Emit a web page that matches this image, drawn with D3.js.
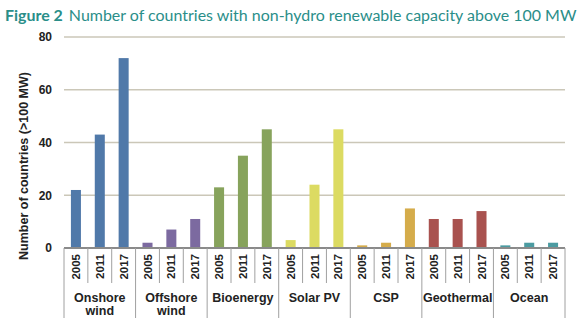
<!DOCTYPE html>
<html>
<head>
<meta charset="utf-8">
<script src="https://cdn.jsdelivr.net/npm/d3@7"></script>
<style>
  body { margin: 0; background: #fff; }
  text { font-family: "Liberation Sans", Arial, sans-serif; }
</style>
</head>
<body>
<div id="chart"></div>
<script>
// data
var groups = ["Onshore wind", "Offshore wind", "Bioenergy", "Solar PV", "CSP", "Geothermal", "Ocean"];
var years = ["2005", "2011", "2017"];
var onshore = [22, 43, 72];
var offshore = [2, 7, 11];
var bioenergy = [23, 35, 45];
var solarpv = [3, 24, 45];
var csp = [1, 2, 15];
var geothermal = [11, 11, 14];
var ocean = [1, 2, 2];
var yTicks = [0, 20, 40, 60, 80];
var colors = ["#5079a9", "#7c6aa0", "#87a35c", "#dcdb62", "#d5ac4b", "#a9524f", "#4b9ba1"];

var series = [onshore, offshore, bioenergy, solarpv, csp, geothermal, ocean];

var rows = [];
groups.forEach(function(g, gi) {
  years.forEach(function(y, yi) {
    rows.push({ key: g + "|" + y, group: g, gi: gi, year: y, value: series[gi][yi] });
  });
});

var width = 579, height = 325;
var margin = { left: 64, right: 14, top: 37, bottom: 77 };

var svg = d3.select("#chart").append("svg")
    .attr("width", width)
    .attr("height", height);

// title, shrunk to fit the width the original uses
var title = svg.append("text")
    .attr("x", 5)
    .attr("y", 21)
    .style("font-family", "Lato, 'Open Sans', sans-serif")
    .style("font-size", "17.5px")
    .attr("fill", "#2a8e89");
title.append("tspan").attr("font-weight", "bold").text("Figure 2");
title.append("tspan").attr("dx", 6).text("Number of countries with non-hydro renewable capacity above 100 MW");
var tw = title.node().getComputedTextLength();
if (tw > 566) title.style("font-size", (17.5 * 566 / tw) + "px");

var x = d3.scaleBand()
    .domain(rows.map(function(d) { return d.key; }))
    .range([margin.left, width - margin.right])
    .paddingInner(0.58)
    .paddingOuter(0.29);

var y = d3.scaleLinear()
    .domain([0, 80])
    .range([height - margin.bottom, margin.top]);

// gridlines
svg.append("g")
  .selectAll("line")
    .data(yTicks.filter(function(t) { return t > 0; }))
    .enter()
      .append("line")
      .attr("x1", margin.left)
      .attr("x2", width - margin.right)
      .attr("y1", function(d) { return y(d); })
      .attr("y2", function(d) { return y(d); })
      .attr("stroke", "#cbc7b8")
      .attr("stroke-width", 1.3);

// y axis labels
var yAxis = svg.append("g")
    .attr("transform", "translate(" + (margin.left - 6) + ",0)")
    .call(d3.axisLeft(y).tickValues(yTicks).tickSize(0).tickPadding(6));
yAxis.select(".domain").remove();
yAxis.selectAll("text")
    .style("font-size", "12px")
    .style("font-weight", "bold")
    .attr("fill", "#222");

svg.append("text")
    .attr("transform", "translate(28," + 166 + ") rotate(-90)")
    .attr("text-anchor", "middle")
    .style("font-size", "12.5px")
    .style("font-weight", "bold")
    .attr("fill", "#222")
    .text("Number of countries  (>100 MW)");

// bars
svg.append("g")
  .selectAll("rect")
    .data(rows)
    .enter()
      .append("rect")
      .attr("x", function(d) { return x(d.key); })
      .attr("y", function(d) { return y(d.value); })
      .attr("width", x.bandwidth())
      .attr("height", function(d) { return y(0) - y(d.value); })
      .attr("fill", function(d) { return colors[d.gi]; });

// category axis
var step = x.step();
var x0 = margin.left;
var base = y(0);

svg.append("line")
    .attr("x1", x0).attr("x2", width - margin.right)
    .attr("y1", base).attr("y2", base)
    .attr("stroke", "#8a8a8a")
    .attr("stroke-width", 2);

// separators: short between years, long between groups
var seps = d3.range(rows.length + 1);
svg.append("g")
  .selectAll("line")
    .data(seps)
    .enter()
      .append("line")
      .attr("x1", function(i) { return x0 + i * step; })
      .attr("x2", function(i) { return x0 + i * step; })
      .attr("y1", base)
      .attr("y2", function(i) { return i % 3 === 0 ? 318 : 283; })
      .attr("stroke", "#a0a0a0")
      .attr("stroke-width", 1);

// year labels
svg.append("g")
  .selectAll("text")
    .data(rows)
    .enter()
      .append("text")
      .attr("transform", function(d) {
        return "translate(" + (x(d.key) + x.bandwidth() / 2 + 4) + "," + (base + 6) + ") rotate(-90)";
      })
      .attr("text-anchor", "end")
      .style("font-size", "11.5px")
      .style("font-weight", "bold")
      .attr("fill", "#222")
      .text(function(d) { return d.year; });

// group labels
var gl = svg.append("g")
  .selectAll("text")
    .data(groups)
    .enter()
      .append("text")
      .attr("x", function(d, i) { return x0 + (i * 3 + 1.5) * step; })
      .attr("y", 302)
      .attr("text-anchor", "middle")
      .style("font-size", "12.5px")
      .style("font-weight", "bold")
      .attr("fill", "#222");

gl.each(function(d) {
  var parts = d === "Onshore wind" || d === "Offshore wind" ? d.split(" ") : [d];
  var t = d3.select(this);
  parts.forEach(function(p, k) {
    t.append("tspan")
      .attr("x", t.attr("x"))
      .attr("dy", k === 0 ? 0 : 13)
      .text(p);
  });
});
</script>
</body>
</html>
